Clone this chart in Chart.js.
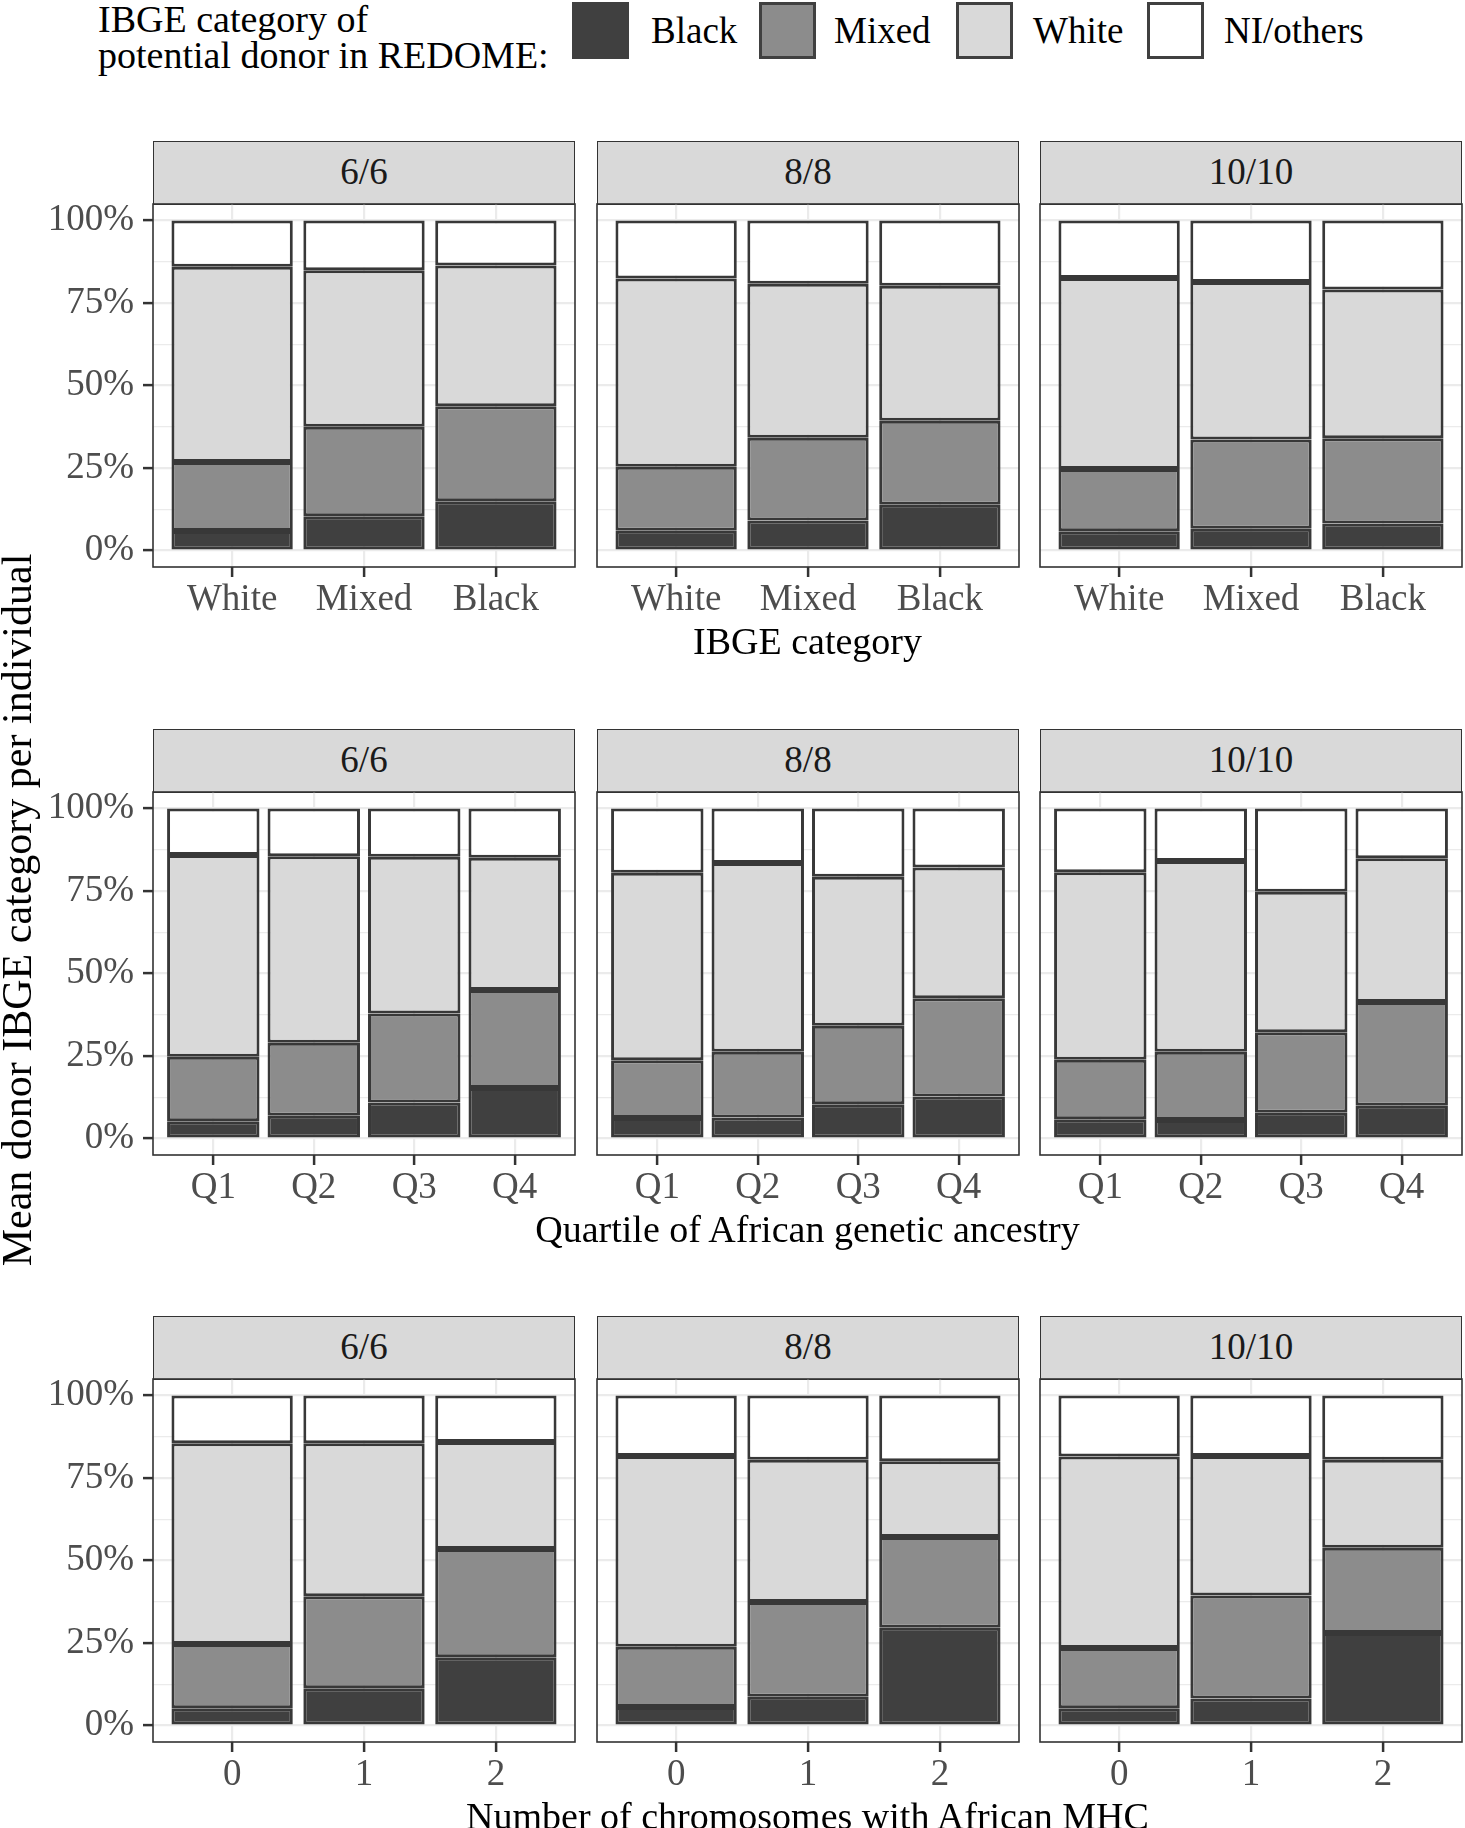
<!DOCTYPE html>
<html><head><meta charset="utf-8">
<script src="https://cdn.jsdelivr.net/npm/chart.js@4.4.1/dist/chart.umd.min.js"></script>
<style>
body{margin:0;background:#fff;}
#root{position:relative;width:1465px;height:1828px;overflow:hidden;background:#fff;font-family:'Liberation Serif','Times New Roman',serif;}
.abs{position:absolute;white-space:nowrap;}
.strip{position:absolute;box-sizing:border-box;background:#D9D9D9;border:1.5px solid #333;color:#1A1A1A;font-size:37px;line-height:60px;text-align:center;}
.key{position:absolute;box-sizing:border-box;border:3px solid #404040;}
</style></head><body><div id="root"></div>
<script>
// ---------------- data ----------------
const facetLabels = ['6/6', '8/8', '10/10'];
const ibgeCategories = ['White', 'Mixed', 'Black'];
const quartileCategories = ['Q1', 'Q2', 'Q3', 'Q4'];
const mhcCategories = ['0', '1', '2'];
const seriesNames = ['Black', 'Mixed', 'White', 'NI/others'];
const yMajorTicks = [0, 25, 50, 75, 100];
const yMinorTicks = [12.5, 37.5, 62.5, 87.5];

// values in % ; one inner list per facet (6/6, 8/8, 10/10)
const ibgeBlack = [[5.9, 10.4, 14.9], [6.0, 9.1, 13.9], [5.8, 6.6, 8.2]];
const ibgeMixed = [[20.9, 27.1, 28.8], [19.4, 25.1, 25.4], [18.9, 27.0, 25.8]];
const ibgeWhite = [[59.2, 47.4, 42.7], [57.0, 46.6, 40.9], [57.9, 47.8, 45.1]];
const ibgeNI    = [[14.0, 15.1, 13.6], [17.6, 19.2, 19.8], [17.4, 18.6, 20.9]];

const quartBlack = [[5.2, 6.9, 10.9, 15.3], [6.2, 6.4, 10.4, 12.7], [5.8, 5.6, 7.8, 9.9]];
const quartMixed = [[19.6, 22.1, 27.0, 29.7], [17.5, 19.9, 23.8, 29.8], [18.1, 20.7, 24.4, 31.5]];
const quartWhite = [[61.1, 56.5, 47.5, 40.1], [56.8, 57.2, 45.1, 39.6], [56.8, 57.8, 42.6, 43.5]];
const quartNI    = [[14.1, 14.5, 14.6, 14.9], [19.5, 16.5, 20.7, 17.9], [19.3, 15.9, 25.2, 15.1]];

const mhcBlack = [[5.2, 11.3, 20.7], [5.6, 8.7, 29.6], [5.2, 8.2, 28.0]];
const mhcMixed = [[19.5, 27.9, 32.8], [18.3, 28.7, 27.5], [18.3, 31.2, 25.9]];
const mhcWhite = [[60.8, 46.3, 32.4], [57.8, 43.1, 23.0], [58.0, 42.3, 26.6]];
const mhcNI    = [[14.5, 14.5, 14.1], [18.3, 19.5, 19.9], [18.5, 18.3, 19.5]];

const rowTitles = ['IBGE category', 'Quartile of African genetic ancestry', 'Number of chromosomes with African MHC'];
const yTitle = 'Mean donor IBGE category per individual';
const legendTitle = ['IBGE category of', 'potential donor in REDOME:'];

// ---------------- style / layout ----------------
const FONT = "'Liberation Serif','Times New Roman',serif";
const fills = ['#404040', '#8C8C8C', '#D9D9D9', '#FFFFFF'];
const BAR_BORDER = '#383838';
const COL_X = [153, 597, 1040];
const ROW_TOP = [204, 792, 1379];
const PANEL_W = 422, PANEL_H = 363, STRIP_H = 63;
const TITLE_BASE = [654, 1242, 1829];

const rows = [
  { cats: ibgeCategories, series: [ibgeBlack, ibgeMixed, ibgeWhite, ibgeNI] },
  { cats: quartileCategories, series: [quartBlack, quartMixed, quartWhite, quartNI] },
  { cats: mhcCategories, series: [mhcBlack, mhcMixed, mhcWhite, mhcNI] }
];

const root = document.getElementById('root');
function addText(txt, left, baseline, size, color, extra) {
  const d = document.createElement('div');
  d.className = 'abs';
  d.textContent = txt;
  d.style.cssText += `left:${left}px;top:${baseline - 0.8375 * size}px;font-size:${size}px;line-height:${size}px;color:${color};` + (extra || '');
  root.appendChild(d);
  return d;
}

const panelBorder = {
  id: 'panelBorder',
  afterDraw(chart) {
    const { ctx, chartArea: a } = chart;
    ctx.save();
    ctx.strokeStyle = '#333333';
    ctx.lineWidth = 1.6;
    ctx.strokeRect(a.left, a.top, a.right - a.left, a.bottom - a.top);
    ctx.restore();
  }
};

function makePanel(r, c) {
  const row = rows[r];
  const n = row.cats.length;
  const left = COL_X[c], top = ROW_TOP[r];
  const padT = 4, padR = 4, padL = c === 0 ? 0 : 4, xH = 70;
  const yW = c === 0 ? left : 0;
  const canvasLeft = c === 0 ? 0 : left - padL;
  const W = yW + padL + PANEL_W + padR;
  const H = padT + PANEL_H + xH;

  // strip
  const s = document.createElement('div');
  s.className = 'strip';
  s.style.cssText += `left:${left}px;top:${top - STRIP_H}px;width:${PANEL_W}px;height:${STRIP_H + 1}px;font-family:${FONT};`;
  s.textContent = facetLabels[c];
  root.appendChild(s);

  const cv = document.createElement('canvas');
  cv.width = W; cv.height = H;
  cv.style.cssText = `position:absolute;left:${canvasLeft}px;top:${top - padT}px;width:${W}px;height:${H}px;`;
  root.appendChild(cv);

  const datasets = row.series.map((ser, k) => ({
    label: seriesNames[k],
    data: ser[c].map((v, i) => ({ x: i + 1, y: v })),
    backgroundColor: fills[k],
    borderColor: BAR_BORDER,
    borderWidth: 3,
    borderSkipped: false,
    barPercentage: 0.92,
    categoryPercentage: 1
  }));

  const yTicksAll = yMajorTicks.concat(yMinorTicks).sort((a, b) => a - b);
  new Chart(cv, {
    type: 'bar',
    data: { datasets },
    options: {
      responsive: false, animation: false, devicePixelRatio: 1,
      layout: { padding: { left: padL, top: padT, right: padR, bottom: 0 } },
      plugins: { legend: { display: false }, tooltip: { enabled: false } },
      scales: {
        x: {
          type: 'linear', stacked: true, min: 0.4, max: n + 0.6, offset: false,
          afterBuildTicks: sc => { sc.ticks = row.cats.map((_, i) => ({ value: i + 1 })); },
          afterFit: sc => { sc.height = xH; sc.paddingLeft = 0; sc.paddingRight = 0; },
          ticks: {
            callback: (v, i) => row.cats[i],
            color: '#4D4D4D', font: { family: FONT, size: 37, lineHeight: 1.1 },
            padding: 3, maxRotation: 0, minRotation: 0, autoSkip: false
          },
          grid: { offset: false, color: '#EBEBEB', lineWidth: 2.2, drawTicks: true, tickLength: 10, tickColor: '#333333', tickWidth: 2.5 },
          border: { display: false }
        },
        y: {
          type: 'linear', stacked: true, min: -5, max: 105,
          afterBuildTicks: sc => { sc.ticks = yTicksAll.map(v => ({ value: v })); },
          afterFit: sc => { sc.width = yW; sc.paddingTop = 0; sc.paddingBottom = 0; },
          ticks: {
            display: c === 0,
            callback: v => (yMajorTicks.includes(v) ? v + '%' : ''),
            color: '#4D4D4D', font: { family: FONT, size: 37, lineHeight: 1.1 },
            padding: 9, autoSkip: false
          },
          grid: {
            color: '#EBEBEB',
            lineWidth: ctx => (ctx.tick && yMajorTicks.includes(ctx.tick.value) ? 2.2 : 1.2),
            drawTicks: c === 0, tickLength: 10,
            tickColor: ctx => (ctx.tick && yMajorTicks.includes(ctx.tick.value) ? '#333333' : 'rgba(0,0,0,0)'),
            tickWidth: 2.5
          },
          border: { display: false }
        }
      }
    },
    plugins: [panelBorder]
  });
}

for (let r = 0; r < 3; r++) for (let c = 0; c < 3; c++) makePanel(r, c);

// x-axis titles
rowTitles.forEach((t, r) => {
  addText(t, 153, TITLE_BASE[r], 38, '#000', 'width:1309px;text-align:center;');
});

// y-axis title (rotated)
(function () {
  const d = document.createElement('div');
  d.className = 'abs';
  d.textContent = yTitle;
  const size = 42;
  d.style.cssText += `left:${17 - 450}px;top:${910 - size / 2}px;width:900px;height:${size}px;line-height:${size}px;font-size:${size}px;text-align:center;color:#000;transform:rotate(-90deg);`;
  root.appendChild(d);
})();

// legend
addText(legendTitle[0], 98, 32, 38, '#000');
addText(legendTitle[1], 98, 68, 38, '#000');
const keyX = [572, 759, 956, 1147];
const labelX = [651, 834, 1033, 1224];
seriesNames.forEach((nm, k) => {
  const b = document.createElement('div');
  b.className = 'key';
  b.style.cssText += `left:${keyX[k]}px;top:2px;width:57px;height:57px;background:${fills[k]};`;
  root.appendChild(b);
  addText(nm, labelX[k], 43, 37, '#000');
});
</script></body></html>
